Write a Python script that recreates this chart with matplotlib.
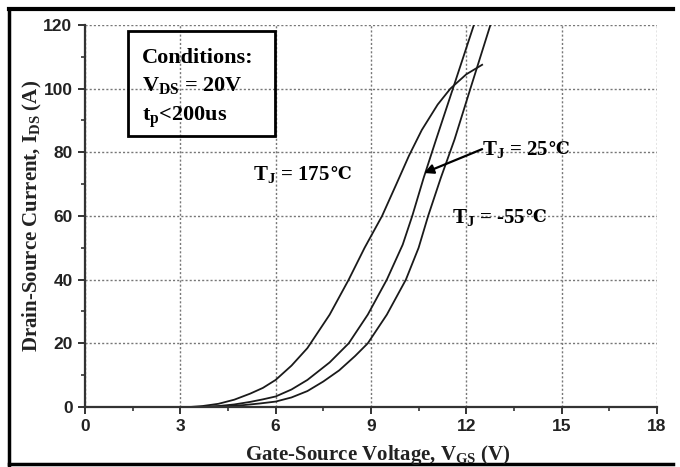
import matplotlib
matplotlib.use("Agg")
import matplotlib.pyplot as plt
from matplotlib.ticker import MultipleLocator
from matplotlib.patches import Rectangle
from matplotlib.lines import Line2D

# transfer curves (V_GS in V, I_DS in A)
vgs_175 = [3.3, 3.7, 4.2, 4.7, 5.2, 5.6, 6.0, 6.5, 7.0, 7.7, 8.3, 8.8, 9.35, 9.8, 10.2, 10.6, 11.1, 11.5, 12.0, 12.5]
ids_175 = [0, 0.3, 1.0, 2.3, 4.2, 6.0, 8.5, 13, 18.5, 29, 40, 50, 60, 70, 79, 87, 95, 100, 104.5, 107.5]

vgs_25 = [3.6, 4.2, 4.7, 5.2, 5.6, 6.0, 6.5, 7.0, 7.7, 8.3, 8.9, 9.5, 10.0, 10.3, 10.66, 11.05, 11.58, 12.24]
ids_25 = [0, 0.3, 0.8, 1.6, 2.4, 3.3, 5.5, 8.5, 14, 20, 29, 40, 51, 60, 72, 84, 100, 120]

vgs_m55 = [3.8, 4.4, 5.0, 5.5, 6.0, 6.5, 7.0, 7.5, 8.0, 8.5, 8.9, 9.5, 10.1, 10.5, 10.8, 11.2, 11.63, 12.13, 12.76]
ids_m55 = [0, 0.2, 0.6, 1.1, 1.7, 3.0, 5.0, 8.0, 11.5, 16, 20, 29, 40, 50, 60, 72, 84, 100, 120]

x_ticks = [0, 3, 6, 9, 12, 15, 18]
y_ticks = [0, 20, 40, 60, 80, 100, 120]

plt.rcParams['mathtext.fontset'] = 'custom'
plt.rcParams['mathtext.rm'] = 'Liberation Serif:bold'
plt.rcParams['mathtext.it'] = 'Liberation Serif:bold'
plt.rcParams['mathtext.bf'] = 'Liberation Serif:bold'

serif = ['Liberation Serif', 'DejaVu Serif']


def temp_label(x, y, value):
    # "T_J = value" in Liberation Serif, then the ℃ sign from DejaVu Serif right after it
    t = ax.text(x, y, r'T$_\mathrm{J}$ = ' + value, family=serif, fontweight='bold',
                fontsize=15, va='center')
    fig.canvas.draw()
    bb = t.get_window_extent().transformed(ax.transData.inverted())
    ax.text(bb.x1, y, '℃', family='DejaVu Serif', fontweight='bold', fontsize=12.5, va='center')
    return bb


fig = plt.figure(figsize=(6.8, 4.67), dpi=100)
ax = fig.add_axes([0.125, 0.1285, 0.841, 0.818])

for v, i in [(vgs_175, ids_175), (vgs_25, ids_25), (vgs_m55, ids_m55)]:
    ax.plot(v, i, color='#1a1a1a', lw=1.3)

ax.set_xlim(0, 18)
ax.set_ylim(0, 120)
ax.set_xticks(x_ticks)
ax.set_yticks(y_ticks)
ax.xaxis.set_minor_locator(MultipleLocator(1.5))
ax.yaxis.set_minor_locator(MultipleLocator(10))
ax.grid(True, which='major', ls=(0, (1.5, 1.5)), color='#777777', lw=1.0)
ax.spines['top'].set_visible(False)
ax.spines['right'].set_visible(False)
for s in ['left', 'bottom']:
    ax.spines[s].set_linewidth(1.6)
    ax.spines[s].set_color('#333333')
ax.tick_params(which='major', direction='out', length=5, width=1.4, color='#333333', pad=4)
ax.tick_params(which='minor', direction='out', length=3, width=1.2, color='#333333')
for lab in ax.get_xticklabels() + ax.get_yticklabels():
    lab.set_family('Liberation Sans')
    lab.set_fontweight('bold')
    lab.set_fontsize(12.5)
    lab.set_color('#222222')

# conditions box
ax.add_patch(Rectangle((1.36, 85), 4.61, 33, fill=False, ec='black', lw=2, zorder=5))
ax.text(1.8, 109.7, 'Conditions:', family=serif, fontweight='bold', fontsize=16, va='center')
ax.text(1.8, 101, r'V$_\mathrm{DS}$ = 20V', family=serif, fontweight='bold', fontsize=16, va='center')
ax.text(1.8, 91, r't$_\mathrm{p}$<200us', family=serif, fontweight='bold', fontsize=16, va='center')

# curve labels
temp_label(5.3, 73, '175')
temp_label(11.55, 59.5, '-55')
temp_label(12.5, 81, '25')
ax.annotate('', xy=(10.67, 73.5), xytext=(12.5, 81),
            arrowprops=dict(arrowstyle='-|>', color='black', lw=1.6, mutation_scale=14,
                            shrinkA=0, shrinkB=0))

fig.text(0.556, 0.026, r'Gate-Source Voltage, V$_\mathrm{GS}$ (V)', family=serif,
         fontweight='bold', fontsize=15, ha='center', va='center', color='#222222')
fig.text(0.048, 0.537, r'Drain-Source Current, I$_\mathrm{DS}$ (A)', family=serif,
         fontweight='bold', fontsize=15, ha='center', va='center', rotation=90, color='#222222')

# outer frame of the picture
fig.add_artist(Line2D([0.013, 0.013], [0.004, 0.981], transform=fig.transFigure, color='black', lw=2.5))
fig.add_artist(Line2D([0.013, 0.99], [0.981, 0.981], transform=fig.transFigure, color='black', lw=3))
fig.add_artist(Line2D([0.013, 0.99], [0.006, 0.006], transform=fig.transFigure, color='black', lw=2.5))

fig.savefig('out.png', dpi=100)
